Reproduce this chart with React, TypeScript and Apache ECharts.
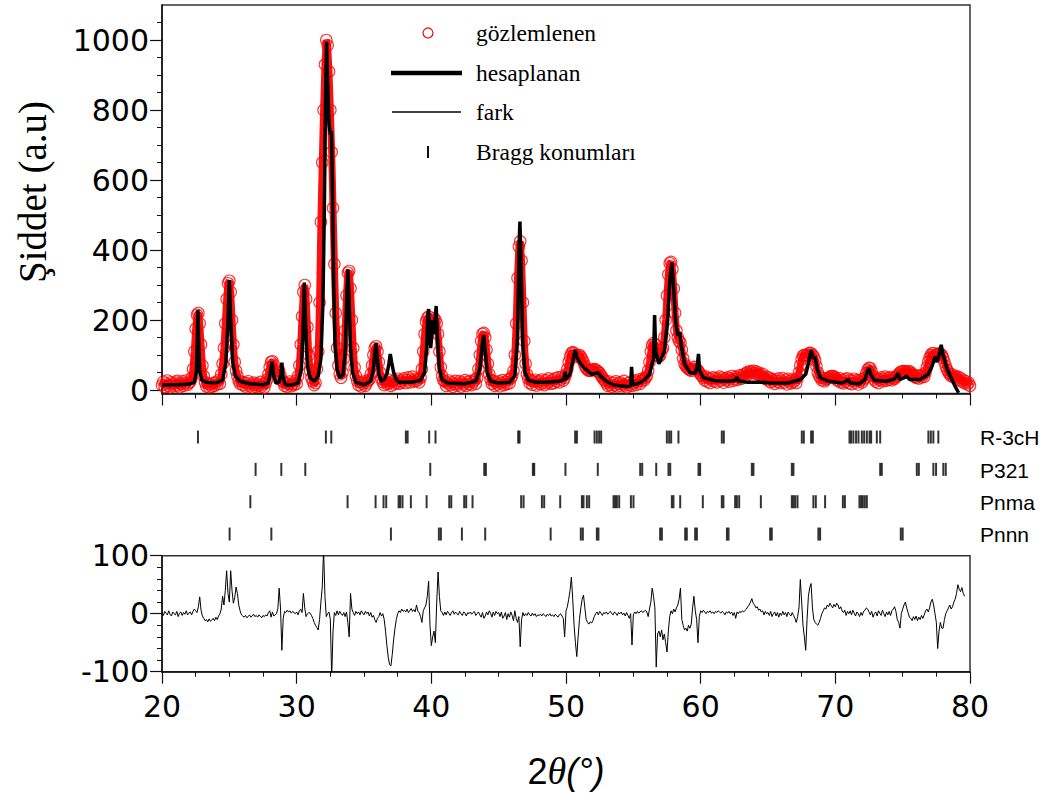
import React, { useEffect, useRef } from "react";
import * as echarts from "echarts";

// ---------- DATA ----------
const OBS_START = 20;
const OBS_STEP = 0.1;
// observed intensity, one value every 0.1° from 20.0 to 80.0
const observed = [
  14, 24, 9, 19, 27, 12, 8, 22, 17, 11,
  21, 26, 13, 8, 18, 25, 12, 20, 27, 15,
  20, 24, 35, 60, 110, 175, 215, 220, 190, 130,
  70, 40, 22, 10, 18, 8, 16, 9, 20, 12,
  22, 16, 28, 18, 45, 75, 120, 190, 260, 305,
  312, 280, 200, 130, 80, 55, 40, 26, 18, 24,
  14, 22, 10, 19, 25, 11, 17, 8, 21, 15,
  9, 18, 12, 23, 10, 16, 7, 20, 30, 45,
  65, 80, 82, 72, 55, 45, 50, 55, 40, 28,
  22, 12, 20, 9, 17, 24, 11, 18, 14, 26,
  18, 40, 70, 130, 210, 280, 300, 260, 180, 100,
  55, 35, 24, 14, 20, 60, 110, 250, 480, 650,
  800, 930, 1000, 985, 910, 800, 680, 520, 360, 220,
  120, 70, 45, 35, 50, 90, 170, 270, 335, 340,
  290, 200, 120, 65, 40, 26, 14, 22, 10, 18,
  24, 12, 20, 27, 30, 45, 70, 100, 120, 125,
  110, 80, 50, 32, 22, 14, 25, 18, 30, 20,
  12, 24, 16, 28, 20, 32, 18, 26, 22, 30,
  34, 20, 28, 36, 22, 30, 38, 24, 32, 26,
  30, 22, 35, 60, 110, 160, 195, 205, 210, 200,
  190, 195, 205, 200, 190, 160, 110, 65, 40, 28,
  24, 12, 20, 27, 14, 22, 9, 18, 26, 13,
  19, 25, 10, 21, 16, 28, 12, 23, 17, 26,
  14, 22, 28, 18, 35, 60, 100, 140, 160, 163,
  150, 115, 75, 45, 30, 18, 26, 12, 22, 16,
  25, 11, 20, 28, 14, 23, 17, 29, 19, 33,
  40, 55, 100, 190, 320, 410, 425, 370, 250, 140,
  75, 45, 32, 20, 27, 15, 24, 29, 13, 22,
  26, 17, 30, 21, 14, 28, 19, 33, 24, 18,
  29, 20, 33, 25, 36, 22, 30, 38, 27, 35,
  45, 60, 80, 95, 105, 108, 105, 100, 95, 98,
  100, 95, 88, 80, 70, 62, 58, 55, 55, 56,
  58, 60, 58, 55, 52, 48, 42, 36, 30, 26,
  20, 12, 24, 15, 9, 21, 13, 25, 10, 18,
  22, 11, 17, 26, 13, 8, 20, 14, 24, 12,
  19, 27, 14, 23, 30, 18, 26, 33, 28, 35,
  40, 55, 80, 110, 128, 134, 130, 115, 100, 95,
  100, 115, 120, 150, 200, 270, 330, 362, 366, 345,
  290, 220, 170, 150, 140, 135, 115, 90, 75, 68,
  64, 60, 58, 55, 60, 66, 64, 60, 56, 50,
  44, 40, 35, 28, 38, 24, 33, 20, 30, 36,
  25, 34, 22, 31, 38, 27, 35, 21, 32, 28,
  36, 24, 33, 40, 26, 31, 38, 29, 35, 42,
  32, 40, 45, 38, 48, 52, 46, 54, 50, 55,
  48, 53, 45, 50, 44, 40, 46, 36, 32, 38,
  28, 35, 22, 31, 26, 18, 30, 24, 33, 20,
  27, 34, 21, 29, 16, 32, 25, 19, 30, 23,
  28, 20, 35, 50, 70, 88, 98, 100, 98, 100,
  104, 106, 105, 100, 95, 85, 68, 50, 40, 35,
  28, 34, 25, 30, 32, 35, 38, 40, 40, 38,
  36, 30, 26, 34, 22, 28, 19, 31, 24, 33,
  20, 29, 17, 26, 32, 21, 28, 16, 25, 30,
  22, 30, 35, 48, 58, 63, 62, 52, 40, 30,
  24, 33, 20, 29, 36, 25, 31, 38, 27, 34,
  30, 37, 28, 35, 32, 38, 40, 45, 50, 52,
  54, 54, 53, 50, 52, 54, 50, 46, 42, 38,
  35, 42, 33, 40, 36, 44, 38, 50, 65, 80,
  92, 100, 105, 105, 100, 98, 102, 105, 104, 100,
  92, 80, 68, 58, 50, 45, 40, 44, 36, 40,
  33, 38, 28, 34, 24, 29, 20, 25, 16, 21,
  12,
];

// calculated profile [2θ, intensity]
const calculated: [number, number][] = [
  [20.0, 14], [20.5, 15], [21.0, 15], [21.5, 16], [22.0, 17], [22.4, 22], [22.55, 50], [22.62, 140],
  [22.67, 229], [22.72, 140], [22.8, 55], [22.95, 28], [23.3, 22], [24.0, 20], [24.5, 28], [24.75, 80],
  [24.9, 200], [25.0, 314], [25.1, 200], [25.25, 80], [25.45, 40], [25.8, 25], [26.5, 18], [27.5, 15],
  [27.9, 20], [28.05, 50], [28.17, 81], [28.3, 40], [28.45, 20], [28.7, 22], [28.82, 45], [28.9, 78],
  [28.98, 40], [29.15, 15], [29.6, 14], [30.1, 20], [30.35, 60], [30.48, 180], [30.57, 307], [30.67, 180],
  [30.8, 70], [31.0, 35], [31.3, 25], [31.6, 40], [31.8, 90], [31.95, 250], [32.05, 500], [32.15, 850],
  [32.22, 995], [32.3, 880], [32.4, 760], [32.5, 730], [32.58, 740], [32.65, 600], [32.75, 300], [32.85, 130],
  [33.0, 60], [33.2, 35], [33.45, 45], [33.62, 120], [33.72, 270], [33.81, 345], [33.9, 250], [34.0, 120],
  [34.15, 50], [34.4, 22], [35.0, 15], [35.5, 25], [35.7, 60], [35.82, 110], [35.89, 134], [35.97, 100],
  [36.1, 45], [36.3, 25], [36.5, 30], [36.7, 45], [36.85, 75], [36.95, 103], [37.05, 80], [37.2, 50],
  [37.4, 30], [37.6, 22], [38.5, 22], [39.2, 28], [39.5, 50], [39.65, 120], [39.75, 220], [39.8, 231],
  [39.88, 150], [39.95, 120], [40.05, 160], [40.1, 200], [40.2, 160], [40.3, 210], [40.36, 240], [40.45, 150],
  [40.6, 60], [40.8, 30], [41.2, 20], [42.5, 18], [43.3, 25], [43.6, 60], [43.78, 130], [43.88, 157],
  [43.98, 120], [44.15, 50], [44.4, 25], [45.0, 20], [45.8, 22], [46.2, 40], [46.4, 150], [46.52, 420],
  [46.58, 481], [46.65, 380], [46.78, 140], [46.95, 50], [47.2, 28], [47.8, 22], [48.5, 22], [49.5, 25],
  [49.85, 30], [49.92, 52], [50.0, 30], [50.3, 45], [50.55, 90], [50.68, 114], [50.8, 95], [51.0, 80],
  [51.3, 65], [51.6, 55], [51.9, 45], [52.2, 48], [52.4, 49], [52.6, 38], [53.0, 25], [53.5, 15],
  [54.0, 12], [54.5, 10], [54.8, 12], [54.87, 66], [54.95, 15], [55.3, 18], [55.8, 28], [56.2, 45],
  [56.5, 90], [56.58, 214], [56.66, 110], [56.9, 75], [57.3, 110], [57.55, 200], [57.72, 320], [57.86, 364],
  [57.98, 300], [58.15, 190], [58.3, 155], [58.45, 165], [58.55, 130], [58.8, 75], [59.2, 50], [59.6, 48],
  [59.75, 70], [59.84, 103], [59.92, 55], [60.2, 35], [61.0, 27], [62.0, 25], [62.6, 28], [62.7, 38],
  [62.8, 26], [63.5, 22], [64.5, 22], [65.3, 20], [66.5, 20], [67.4, 30], [67.8, 45], [68.0, 75],
  [68.2, 114], [68.35, 90], [68.5, 95], [68.65, 60], [68.9, 35], [69.5, 25], [70.5, 20], [70.8, 25],
  [70.95, 31], [71.1, 20], [71.8, 18], [72.2, 30], [72.4, 55], [72.5, 63], [72.62, 45], [72.9, 28],
  [73.8, 25], [74.4, 32], [74.67, 48], [74.8, 30], [75.1, 35], [75.3, 40], [75.5, 30], [76.3, 30],
  [76.9, 45], [77.2, 70], [77.4, 95], [77.55, 80], [77.7, 100], [77.86, 129], [78.0, 100], [78.3, 60],
  [78.6, 35], [78.9, 10], [79.15, -8],
];

const DIFF_START = 20;
const DIFF_STEP = 0.1;
// difference curve, one value every 0.1° from 20.0 to 79.6
const difference = [
  2, -3, 4, 1, -2, 5, -1, -4, 3, 0,
  -2, 4, -5, 1, 3, -3, 2, -1, 5, -2,
  1, 3, -2, 4, 8, 5, 2, 12, 29, 6,
  -4, -8, -12, -10, -14, -9, -13, -11, -8, -12,
  -6, -10, -4, 0, 8, 30, 15, 40, 74, 35,
  20, 74, 40, 18, 28, 46, 35, 15, 5, -2,
  -4, -6, -3, -7, -5, -2, -6, -4, -1, -5,
  -3, -6, -2, -4, -7, -3, -5, -2, -4, 2,
  5, -6, 3, -4, -2, 0, 8, 44, 10, -63,
  -8, 4, 2, 6, 3, 5, 1, 4, 2, 0,
  3, -2, 5, 8, 2, 35, 10, -5, 0, 2,
  1, -3, -8, -15, -20, -24, -28, -10, 20, 46,
  110, 30, -5, 0, 3, -10, -110, -30, 2, -3,
  5, -2, 4, 0, -3, 2, -5, 3, -15, -40,
  35, 8, 2, -3, 4, 0, 3, -2, 5, 1,
  -2, 4, 0, 3, -4, 2, -6, -3, -10, -15,
  -8, -5, 2, -4, 0, -10, -30, -55, -75, -88,
  -90, -70, -45, -25, -10, 0, 5, 2, 8, 4,
  6, 3, 8, 2, 5, 9, 4, 7, 3, 15,
  4, 2, -5, -15, 5, 10, 15, 30, 56, -20,
  -55, -40, -30, -50, 20, 72, 30, 5, 2, -3,
  3, -2, 4, 1, -3, 2, 5, -1, 3, 0,
  -2, 4, 0, -3, 3, 1, -4, 2, 0, 3,
  -1, 2, 4, -3, 0, 3, -2, -6, 2, -8,
  -4, 3, -2, 5, 1, -6, 3, -3, 4, 0,
  2, -5, 3, -8, -4, 2, -10, 0, -6, 3,
  -3, -12, 5, -8, -15, -5, -57, -10, 2, -4,
  0, -3, 2, -2, -4, 1, -3, 0, -5, -2,
  -3, -1, -4, 0, -2, -5, -1, -3, 0, -4,
  -2, -5, -1, -3, -6, -2, 0, -4, -8, -40,
  5, 12, 25, 40, 63, 25, -20, -50, -74, -40,
  -10, 10, 25, 32, 10, -10, -15, -18, -14, -16,
  -12, -5, 0, 3, -2, 4, 1, -3, 2, 0,
  3, -1, 2, 4, 0, -2, 3, 1, -3, 2,
  0, 3, -2, 1, -4, 2, -3, -8, 0, -54,
  -2, 3, 0, 4, 1, 3, 5, 2, 4, 6,
  3, -5, 8, 20, 44, 30, 10, -92, -35, -30,
  -40, -28, -45, -35, -50, -66, -30, -5, 5, 0,
  8, 3, 10, 15, 25, 44, -10, -20, -28, -25,
  -30, -20, -25, -18, 10, 30, 5, -10, -50, -5,
  5, 2, 6, 3, 0, 4, 2, 5, 1, 3,
  0, 4, 2, 5, 3, 1, 4, 2, -2, 3,
  1, 4, 0, 3, -3, 2, -8, 3, 0, 4,
  2, 5, 3, 6, 8, 12, 15, 20, 26, 18,
  15, 10, 12, 6, 8, 3, 5, -2, 4, 0,
  2, -3, 4, -5, 0, 3, -4, 2, -6, 1,
  -3, 4, -2, 2, -5, 3, -1, -4, 2, -3,
  -8, -15, -5, 10, 59, 20, -20, -40, -63, -10,
  30, 45, 52, 10, -10, -15, -18, -20, -15, -8,
  0, 5, 10, 8, 15, 12, 18, 14, 10, 16,
  12, 18, 15, 8, 12, 5, 2, 6, -3, 4,
  0, 5, -2, 6, 1, -4, 3, 0, -5, 2,
  -3, 4, 6, 10, 8, 3, -2, 4, -6, 0,
  3, -4, 5, 1, -3, 6, 0, -5, 3, -2,
  4, -3, 5, 8, 12, 4, -10, -15, -25, 0,
  8, 15, 20, 10, 2, -6, -8, -12, -5, -10,
  -4, -12, -6, -10, -3, -8, -2, 5, 8, 3,
  10, 20, 25, 15, 0, -15, -60, -30, -15, -25,
  -25, -10, 0, 5, 10, 15, 8, 12, 20, 25,
  35, 50, 42, 38, 45, 35, 30,
];

// Bragg reflection positions (2θ) for each phase
const braggR3cH = [
  22.67, 32.17, 32.57, 38.11, 38.24, 39.84, 40.31, 46.45, 46.55, 50.68, 50.81, 52.12, 52.29, 52.46, 52.61,
  57.49, 57.66, 57.81, 58.35, 61.57, 61.72, 67.51, 67.66, 68.2, 68.33, 71.05, 71.17, 71.34, 71.54, 71.72,
  71.97, 72.14, 72.34, 72.54, 72.66, 73.08, 73.33, 76.91, 77.09, 77.28, 77.65,
];
const braggP321 = [
  26.95, 28.86, 30.64, 39.92, 43.93, 44.05, 47.54, 47.64, 49.96, 52.36, 55.51, 55.66, 56.7, 57.61, 57.74,
  59.84, 59.96, 63.8, 63.92, 66.77, 66.89, 73.33, 73.45, 76.05, 76.2, 77.28, 77.48, 78.02, 78.2,
];
const braggPnma = [
  26.56, 33.78, 35.86, 36.45, 36.65, 37.57, 37.69, 37.86, 38.48, 39.65, 41.33, 41.48, 42.44, 42.59, 43.06,
  46.67, 46.85, 48.21, 48.38, 49.57, 51.18, 51.3, 51.55, 51.72, 53.53, 53.65, 53.78, 53.95, 54.82, 55.01,
  57.86, 57.98, 58.48, 60.16, 61.57, 61.69, 62.56, 62.69, 62.86, 64.47, 66.77, 66.89, 67.02, 67.19, 68.37,
  68.55, 69.24, 70.56, 70.71, 71.79, 71.92, 72.04, 72.19, 72.34,
];
const braggPnnn = [
  25.02, 28.12, 37.0, 40.56, 40.71, 42.27, 44.0, 48.86, 51.1, 51.25, 52.29, 52.41, 56.99, 57.12, 58.85,
  58.97, 59.59, 59.72, 61.95, 62.07, 65.16, 65.28, 68.74, 68.87, 74.86, 75.0,
];
const phaseNames = ["R-3cH", "P321", "Pnma", "Pnnn"];

const xTicks = [20, 30, 40, 50, 60, 70, 80];
const yTopLabels = [0, 200, 400, 600, 800, 1000];
const yTopMinor = [50, 100, 150, 250, 300, 350, 450, 500, 550, 650, 700, 750, 850, 900, 950, 1050];
const legendLabels = ["gözlemlenen", "hesaplanan", "fark", "Bragg konumları"];

// ---------- LAYOUT ----------
const L = 162;
const W = 808;
const SANS = "'Liberation Sans', Arial, sans-serif";
const TICKFONT = "'DejaVu Sans', 'Liberation Sans', Arial, sans-serif";
const SERIF = "'Liberation Serif', 'Times New Roman', serif";

export default function App() {
  const ref = useRef<HTMLDivElement>(null);

  useEffect(() => {
    if (!ref.current) return;
    const chart = echarts.init(ref.current, undefined, { renderer: "svg" });

    const obsData = observed.map((v, i) => [Number((OBS_START + i * OBS_STEP).toFixed(2)), v]);
    const diffData = difference.map((v, i) => [Number((DIFF_START + i * DIFF_STEP).toFixed(2)), v]);
    const braggSets = [braggR3cH, braggP321, braggPnma, braggPnnn];

    const axisLine = { show: true, onZero: false, lineStyle: { color: "#111", width: 1.5 } };
    const plain = (v: number) => String(v);

    const option: any = {
      animation: false,
      backgroundColor: "#fff",
      grid: [
        { left: L, top: 5, width: W, height: 388.5, show: true, borderColor: "#333", borderWidth: 1.5 },
        { left: L, top: 404.7, width: W, height: 161.7, show: false },
        { left: L, top: 555.7, width: W, height: 116, show: true, borderColor: "#333", borderWidth: 1.5 },
      ],
      xAxis: [
        {
          gridIndex: 0, type: "value", min: 20, max: 80, interval: 10,
          axisLine,
          axisTick: { show: true, length: 12, lineStyle: { color: "#111", width: 1.2 } },
          minorTick: { show: true, splitNumber: 4, length: 5, lineStyle: { color: "#111", width: 1 } },
          axisLabel: { show: false },
          splitLine: { show: false },
          minorSplitLine: { show: false },
        },
        { gridIndex: 1, type: "value", min: 20, max: 80, show: false },
        {
          gridIndex: 2, type: "value", min: 20, max: 80, interval: 10,
          axisLine,
          axisTick: { show: true, length: 12, lineStyle: { color: "#111", width: 1.2 } },
          minorTick: { show: true, splitNumber: 4, length: 5, lineStyle: { color: "#111", width: 1 } },
          axisLabel: {
            show: true, fontSize: 30, fontFamily: TICKFONT, color: "#000", margin: 20,
            customValues: xTicks, formatter: plain,
          },
          splitLine: { show: false },
        },
      ],
      yAxis: [
        {
          gridIndex: 0, type: "value", position: "left", min: -10, max: 1100,
          axisLine,
          axisTick: { show: true, length: 12, customValues: yTopLabels, lineStyle: { color: "#111", width: 1.2 } },
          axisLabel: {
            show: true, customValues: yTopLabels, fontSize: 30, fontFamily: TICKFONT, color: "#000",
            margin: 13, formatter: plain,
          },
          splitLine: { show: false },
        },
        {
          gridIndex: 0, type: "value", position: "left", offset: 0, min: -10, max: 1100,
          axisLine: { show: false },
          axisTick: { show: true, length: 5, customValues: yTopMinor, lineStyle: { color: "#111", width: 1 } },
          axisLabel: { show: false },
          splitLine: { show: false },
        },
        { gridIndex: 1, type: "value", min: 0, max: 5, show: false },
        {
          gridIndex: 2, type: "value", position: "left", min: -100, max: 100, interval: 100,
          axisLine,
          axisTick: { show: true, length: 12, lineStyle: { color: "#111", width: 1.2 } },
          minorTick: { show: true, splitNumber: 5, length: 5, lineStyle: { color: "#111", width: 1 } },
          axisLabel: { show: true, fontSize: 30, fontFamily: TICKFONT, color: "#000", margin: 13, formatter: plain },
          splitLine: { show: false },
        },
      ],
      series: [
        {
          name: "gözlemlenen band", type: "line", xAxisIndex: 0, yAxisIndex: 0,
          data: obsData, showSymbol: false, symbol: "none",
          lineStyle: { color: "#ff1010", width: 7 }, z: 1, silent: true,
        },
        {
          name: "gözlemlenen", type: "scatter", xAxisIndex: 0, yAxisIndex: 0,
          data: obsData, symbol: "circle", symbolSize: 11.5,
          itemStyle: { color: "rgba(0,0,0,0)", borderColor: "#ff0000", borderWidth: 1.1 },
          z: 2, silent: true,
        },
        {
          name: "hesaplanan", type: "line", xAxisIndex: 0, yAxisIndex: 0,
          data: calculated, showSymbol: false, symbol: "none",
          lineStyle: { color: "#000", width: 3.5 }, z: 3, silent: true,
        },
        ...braggSets.map((set, k) => ({
          name: phaseNames[k], type: "scatter", xAxisIndex: 1, yAxisIndex: 2,
          data: set.map((x) => [x, 4 - k]),
          symbol: "rect", symbolSize: [2, 13],
          itemStyle: { color: "#000" }, silent: true,
        })),
        {
          name: "fark", type: "line", xAxisIndex: 2, yAxisIndex: 3,
          data: diffData, showSymbol: false, symbol: "none",
          lineStyle: { color: "#000", width: 1 }, silent: true,
        },
      ],
      graphic: [
        // y axis name
        {
          type: "text", x: 32, y: 192, rotation: Math.PI / 2,
          style: {
            text: "Şiddet (a.u)", font: `39px ${SERIF}`, fill: "#000",
            align: "center", verticalAlign: "middle",
          },
        },
        // x axis name
        {
          type: "text", x: 566, y: 771,
          style: {
            text: "{a|2}{b|θ}{c|(°)}",
            align: "center", verticalAlign: "middle",
            rich: {
              a: { fontSize: 36, fontFamily: SANS, fill: "#000" },
              b: { fontSize: 38, fontFamily: SERIF, fontStyle: "italic", fill: "#000" },
              c: { fontSize: 36, fontFamily: SANS, fontStyle: "italic", fill: "#000" },
            },
          },
        },
        // legend
        { type: "circle", shape: { cx: 428, cy: 33, r: 5 }, style: { fill: "none", stroke: "#ff0000", lineWidth: 1.2 } },
        { type: "line", shape: { x1: 391, y1: 73, x2: 462, y2: 73 }, style: { stroke: "#000", lineWidth: 4.5 } },
        { type: "line", shape: { x1: 392, y1: 112, x2: 461, y2: 112 }, style: { stroke: "#000", lineWidth: 1.3 } },
        { type: "rect", shape: { x: 427, y: 146, width: 2, height: 12 }, style: { fill: "#111" } },
        ...legendLabels.map((t, i) => ({
          type: "text", x: 476, y: [33, 73, 112, 152][i],
          style: { text: t, font: `23.5px ${SERIF}`, fill: "#000", verticalAlign: "middle", align: "left" },
        })),
        // phase labels
        ...phaseNames.map((t, i) => ({
          type: "text", x: 980, y: [437, 470, 502, 534][i],
          style: { text: t, font: `21px ${SANS}`, fill: "#000", verticalAlign: "middle", align: "left" },
        })),
      ],
    };

    chart.setOption(option);
    return () => chart.dispose();
  }, []);

  return (
    <div
      ref={ref}
      style={{ position: "fixed", left: 0, top: 0, width: 1054, height: 794, background: "#fff" }}
    />
  );
}
